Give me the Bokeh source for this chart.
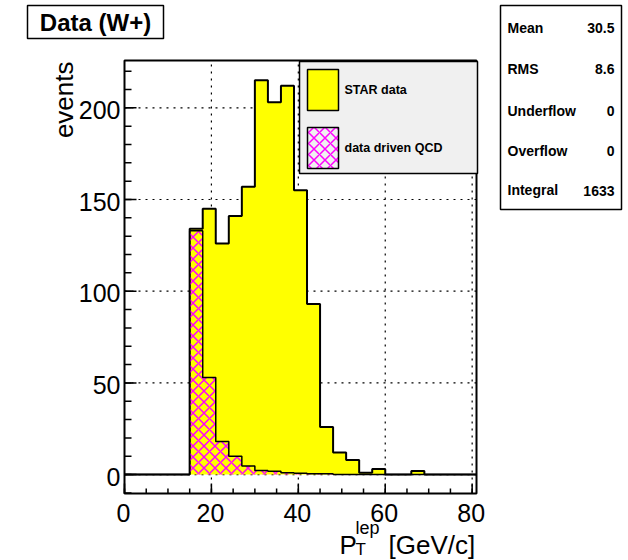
import math
from bokeh.plotting import figure
from bokeh.models import BoxAnnotation, Label
from bokeh.core.properties import value
from bokeh.embed import file_html
from bokeh.resources import INLINE

# ---- histogram contents: 27 bins of 3 GeV/c from 0 to 81 ----
bin_edges = [3 * i for i in range(28)]
star_data = [0, 0, 0, 0, 0,
             134, 145, 126, 141, 157, 215, 203, 212, 155, 93,
             26, 12, 8, 1, 3, 0, 0, 2, 0, 0, 0, 0]
qcd_data = [0, 0, 0, 0, 0,
            133, 53, 18, 10, 4.7, 2.3, 1.8, 1.0, 0.7, 0.5,
            0.5, 0, 0, 0, 0, 0, 0, 0, 0, 0, 0, 0]

# ---- axis ticks ----
x_major = [0, 20, 40, 60, 80]
x_tick_labels = ["0", "20", "40", "60", "80"]
x_minor = [5 * i for i in range(17)]
y_major = [0, 50, 100, 150, 200]
y_tick_labels = ["0", "50", "100", "150", "200"]
y_minor = [10 * i for i in range(-1, 23)]

legend_labels = ["STAR data", "data driven QCD"]
stat_names = ["Mean", "RMS", "Underflow", "Overflow", "Integral"]
stat_values = ["30.5", "8.6", "0", "0", str(int(round(sum(star_data))))]

# histogram frame in data units
X0, X1 = 0, 81
Y0, Y1 = -10.3, 225.8

# canvas size and where the histogram frame sits on it (pixels)
W, H = 628, 560
FL, FR, FT, FB = 124, 476, 60, 493

FONT = "Liberation Sans"

SX = (FR - FL) / (X1 - X0)   # px per unit along x
SY = (FB - FT) / (Y1 - Y0)   # px per unit along y


def dx(px):
    return X0 + (px - FL) / SX


def dy(py):
    return Y0 + (FB - py) / SY


def step_outline(edges, vals):
    xs, ys = [edges[0]], [0]
    for i, v in enumerate(vals):
        xs += [edges[i], edges[i + 1]]
        ys += [v, v]
    xs.append(edges[-1])
    ys.append(0)
    return xs, ys


# whole canvas is the drawing area; the histogram frame and its axes are drawn inside it
p = figure(width=W, height=H, x_range=(dx(0), dx(W)), y_range=(dy(H), dy(0)),
           output_backend="svg", toolbar_location=None,
           x_axis_type=None, y_axis_type=None, min_border=0)
p.background_fill_color = "white"
p.border_fill_color = "white"
p.outline_line_color = None

# dotted grid lines
grid_kw = dict(line_color="black", line_dash="2 5", line_width=1.2)
xg = [t for t in x_major if X0 < t < X1]
p.segment(x0=xg, y0=[Y0] * len(xg), x1=xg, y1=[Y1] * len(xg), **grid_kw)
p.segment(x0=[X0] * len(y_major), y0=y_major, x1=[X1] * len(y_major), y1=y_major, **grid_kw)

# STAR data histogram
sx, sy = step_outline(bin_edges, star_data)
p.patch(sx, sy, fill_color="#ffff00", line_color=None)
p.line(sx, sy, line_color="black", line_width=2)

# data driven QCD histogram (hatched, no fill)
qx, qy = step_outline(bin_edges, qcd_data)
p.patch(qx, qy, fill_alpha=0, line_color=None,
        hatch_pattern="diagonal_cross", hatch_color="#ff00ff",
        hatch_scale=11, hatch_weight=1.5)
p.line(qx, qy, line_color="black", line_width=1.5)

# tick marks, pointing into the frame
tick_kw = dict(line_color="black", line_width=1.5, length_units="screen")
p.ray(x=x_minor, y=[Y0] * len(x_minor), length=5, angle=math.pi / 2, **tick_kw)
p.ray(x=x_major, y=[Y0] * len(x_major), length=10, angle=math.pi / 2, **tick_kw)
p.ray(x=[X0] * len(y_minor), y=y_minor, length=7, angle=0, **tick_kw)
p.ray(x=[X0] * len(y_major), y=y_major, length=12, angle=0, **tick_kw)

# tick labels
p.text(x=x_major, y=[Y0] * len(x_major), text=x_tick_labels, x_offset=-1, y_offset=19,
       text_font=value(FONT), text_font_size=value("25px"), text_color="black",
       text_align="center", text_baseline="middle")
p.text(x=[X0] * len(y_major), y=y_major, text=y_tick_labels, x_offset=-4, y_offset=2,
       text_font=value(FONT), text_font_size=value("25px"), text_color="black",
       text_align="right", text_baseline="middle")


def box(l, r, t, b, fill="white", lw=1.5, **kw):
    p.add_layout(BoxAnnotation(left=l, right=r, top=t, bottom=b,
                               fill_color=fill, fill_alpha=1 if fill else 0,
                               line_color="black", line_width=lw, line_alpha=1,
                               line_dash="solid", **kw))


def pbox(l, r, t, b, **kw):
    box(dx(l), dx(r), dy(t), dy(b), **kw)


def text(px, py, s, size, bold=False, align="left", baseline="middle", angle=0):
    p.add_layout(Label(x=dx(px), y=dy(py), text=s, text_font=FONT,
                       text_font_size=f"{size}px",
                       text_font_style="bold" if bold else "normal",
                       text_align=align, text_baseline=baseline,
                       text_color="black", angle=angle))


# histogram frame
box(X0, X1, Y1, Y0, fill=None, lw=2)

# legend
pbox(299, 477, 61, 173, fill="#f0f0f0")
pbox(307, 338, 69, 110, fill="#ffff00")
pbox(307, 338, 127, 168, fill=None, hatch_pattern="diagonal_cross",
     hatch_color="#ff00ff", hatch_scale=11, hatch_weight=1.5)
text(344, 89, legend_labels[0], 12.5, bold=True)
text(344, 147, legend_labels[1], 12.5, bold=True)

# title box
pbox(27, 163, 5, 38)
text(95, 22, "Data (W+)", 24, bold=True, align="center")

# statistics box
pbox(500, 621, 5, 209)
for i, (n, v) in enumerate(zip(stat_names, stat_values)):
    yy = [27, 68, 110, 150, 189][i]
    text(507, yy, n, 14, bold=True)
    text(614, yy + (1 if i == 4 else 0), v, 14, bold=True, align="right")

# axis titles
text(63.5, 61, "events", 26, align="right", angle=math.pi / 2)
text(339, 544, "P", 26)
text(355, 549, "T", 17)
text(355, 527, "lep", 18)
text(388, 544, "[GeV/c]", 26)

open("out.html", "w").write(file_html(p, INLINE))
